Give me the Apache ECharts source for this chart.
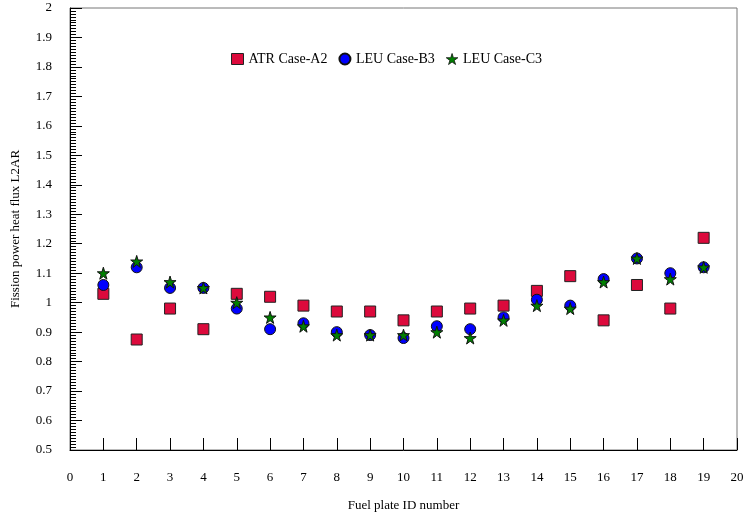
<!DOCTYPE html>
<html>
<head>
<meta charset="utf-8">
<script src="https://cdn.jsdelivr.net/npm/echarts@6/dist/echarts.min.js"></script>
<style>
  html, body { margin: 0; padding: 0; background: #fff; }
  #chart { width: 748px; height: 514px; }
</style>
</head>
<body>
<div id="chart"></div>
<script>
// fuel plate numbers and heat flux ratios
const plates = [1, 2, 3, 4, 5, 6, 7, 8, 9, 10, 11, 12, 13, 14, 15, 16, 17, 18, 19];
const atrA2 = [1.03, 0.875, 0.98, 0.91, 1.03, 1.02, 0.99, 0.97, 0.97, 0.94, 0.97, 0.98, 0.99, 1.04, 1.09, 0.94, 1.06, 0.98, 1.22];
const leuB3 = [1.06, 1.12, 1.05, 1.05, 0.98, 0.91, 0.93, 0.90, 0.89, 0.88, 0.92, 0.91, 0.95, 1.01, 0.99, 1.08, 1.15, 1.10, 1.12];
const leuC3 = [1.10, 1.14, 1.07, 1.05, 1.00, 0.95, 0.92, 0.89, 0.89, 0.89, 0.90, 0.88, 0.94, 0.99, 0.98, 1.07, 1.15, 1.08, 1.12];
const seriesNames = ['ATR Case-A2', 'LEU Case-B3', 'LEU Case-C3'];

const star = 'path://M50,0 L61,35 L98,35 L68,57 L79,91 L50,70 L21,91 L32,57 L2,35 L39,35 Z';
const font = '"Liberation Serif", "Times New Roman", serif';

function pairs(vals) {
  return plates.map((p, i) => [p, vals[i]]);
}

const chart = echarts.init(document.getElementById('chart'));
chart.setOption({
  animation: false,
  textStyle: { fontFamily: font },
  grid: {
    left: 70, right: 11, top: 8, bottom: 64,
    outerBoundsMode: 'none', containLabel: false,
    show: true, borderColor: '#777', borderWidth: 1
  },
  legend: {
    top: 47, left: 226,
    itemGap: 11, itemWidth: 12, itemHeight: 11,
    textStyle: { fontFamily: font, fontSize: 14, color: '#000' },
    data: [
      { name: seriesNames[0], itemStyle: { borderWidth: 1 } },
      { name: seriesNames[1] },
      { name: seriesNames[2], icon: star, itemStyle: { borderWidth: 0.8 } }
    ]
  },
  xAxis: {
    type: 'value', min: 0, max: 20, interval: 1,
    name: 'Fuel plate ID number', nameLocation: 'middle', nameGap: 49,
    nameTextStyle: { fontFamily: font, fontSize: 13, color: '#000' },
    axisLine: { lineStyle: { color: '#000', width: 1 } },
    axisTick: { inside: true, length: 12, lineStyle: { color: '#000' } },
    axisLabel: { margin: 21, fontFamily: font, fontSize: 13, color: '#000' },
    splitLine: { show: false }
  },
  yAxis: {
    type: 'value', min: 0.5, max: 2, interval: 0.1,
    name: 'Fission power heat flux L2AR', nameLocation: 'middle', nameGap: 48,
    nameTextStyle: { fontFamily: font, fontSize: 13, color: '#000' },
    axisLine: { lineStyle: { color: '#000', width: 1 } },
    axisTick: { inside: true, length: 12, lineStyle: { color: '#000' } },
    minorTick: { show: true, splitNumber: 10, length: 6, lineStyle: { color: '#000' } },
    axisLabel: {
      margin: 18, fontFamily: font, fontSize: 13, color: '#000',
      formatter: v => String(Math.round(v * 10) / 10)
    },
    splitLine: { show: false }
  },
  series: [
    {
      name: seriesNames[0], type: 'scatter', symbol: 'rect', symbolSize: 11,
      itemStyle: { color: '#dc0a3c', borderColor: '#222', borderWidth: 1, opacity: 1 },
      data: pairs(atrA2), z: 2
    },
    {
      name: seriesNames[1], type: 'scatter', symbol: 'circle', symbolSize: 11,
      itemStyle: { color: '#0000ff', borderColor: '#111', borderWidth: 1, opacity: 1 },
      data: pairs(leuB3), z: 3
    },
    {
      name: seriesNames[2], type: 'scatter', symbol: star, symbolSize: 12,
      itemStyle: { color: '#008000', borderColor: '#111', borderWidth: 1, opacity: 1 },
      data: pairs(leuC3), z: 4
    }
  ]
});
</script>
</body>
</html>
